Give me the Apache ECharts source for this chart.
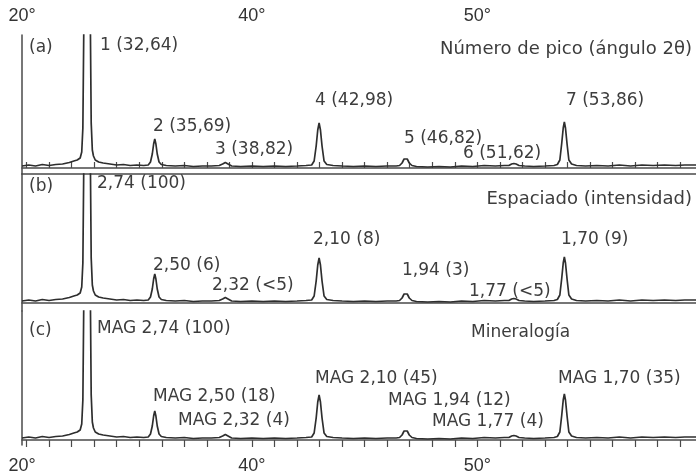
<!DOCTYPE html>
<html>
<head>
<meta charset="utf-8">
<script src="https://cdn.jsdelivr.net/npm/echarts@6/dist/echarts.min.js"></script>
<style>
  html, body { margin: 0; padding: 0; background: #ffffff; }
  #chart { width: 696px; height: 476px; }
</style>
</head>
<body>
<div id="chart"></div>
<script>
// Diffraction peaks (2θ, d-spacing, relative intensity, magnetite reference intensity)
const peakNumbers = ['1', '2', '3', '4', '5', '6', '7'];
const peakAngles = [32.64, 35.69, 38.82, 42.98, 46.82, 51.62, 53.86];
const dSpacings = ['2,74', '2,50', '2,32', '2,10', '1,94', '1,77', '1,70'];
const relIntensity = ['100', '6', '<5', '8', '3', '<5', '9'];
const magIntensity = ['100', '18', '4', '45', '12', '4', '35'];

// Panel headings
const panelLetters = ['(a)', '(b)', '(c)'];
const panelTitles = ['Número de pico (ángulo 2θ)', 'Espaciado (intensidad)', 'Mineralogía'];

// Axis labels printed on the 2θ scale
const tickValues = [29.8, 40, 50];
const tickLabels = ['20°', '40°', '50°'];

// Recorded diffractogram: 2θ (degrees) and counts (arbitrary units)
const traceAngle = [
  29.80, 30.10, 30.40, 30.70, 31.00, 31.30, 31.60, 31.90, 32.10, 32.25,
  32.38, 32.45, 32.50, 32.55, 32.60, 32.70, 32.78, 32.83, 32.87, 32.92,
  32.97, 33.05, 33.20, 33.40, 33.70, 34.00, 34.30, 34.60, 34.90, 35.20,
  35.40, 35.50, 35.58, 35.64, 35.69, 35.74, 35.80, 35.88, 35.98, 36.20,
  36.60, 37.00, 37.40, 37.80, 38.20, 38.55, 38.70, 38.82, 38.94, 39.10,
  39.50, 40.00, 40.50, 41.00, 41.50, 42.00, 42.40, 42.65, 42.76, 42.85,
  42.92, 42.98, 43.04, 43.11, 43.20, 43.32, 43.60, 44.00, 44.50, 45.00,
  45.50, 46.00, 46.40, 46.55, 46.66, 46.75, 46.82, 46.89, 46.98, 47.10,
  47.30, 47.80, 48.30, 48.80, 49.30, 49.80, 50.30, 50.80, 51.20, 51.40,
  51.52, 51.62, 51.72, 51.85, 52.10, 52.50, 53.00, 53.40, 53.55, 53.66,
  53.74, 53.81, 53.86, 53.91, 53.98, 54.06, 54.18, 54.40, 54.80, 55.30,
  55.80, 56.30, 56.80, 57.30, 57.80, 58.30, 58.80, 59.20, 59.70
];
const traceCounts = [
  2, 3, 2, 3.5, 2.5, 3.5, 4, 5.5, 7, 8,
  10, 16, 40, 160, 900, 1400, 700, 150, 45, 18,
  12, 8, 6, 5, 4, 3, 3.5, 2.5, 3, 2.5,
  3, 6, 14, 24, 29, 24, 14, 6, 3.5, 2.5,
  2, 2.5, 1.5, 2, 2, 2.5, 4, 5.5, 4, 2,
  1.5, 2, 1.5, 2, 1.5, 2, 2.5, 3, 7, 22,
  38, 45, 38, 22, 7, 3.5, 2.5, 2, 1.5, 2,
  1.5, 2, 2, 2.5, 5, 9, 11, 9, 5, 2.5,
  1.5, 1, 1.5, 1, 2, 1.5, 2.5, 2, 2.5, 2.5,
  4, 4.5, 4, 2.5, 2, 1.5, 2, 2.5, 3.5, 8,
  24, 40, 46, 40, 24, 8, 4, 2.5, 2, 2.5,
  2, 3, 2, 3, 2.5, 3, 2.5, 3, 3
];

const trace = traceAngle.map((a, i) => [a, traceCounts[i]]);

// Peak annotation texts for each panel
const commaAngle = a => a.toFixed(2).replace('.', ',');
const labelsA = peakNumbers.map((n, i) => n + ' (' + commaAngle(peakAngles[i]) + ')');
const labelsB = dSpacings.map((d, i) => d + ' (' + relIntensity[i] + ')');
const labelsC = dSpacings.map((d, i) => 'MAG ' + d + ' (' + magIntensity[i] + ')');

// Layout of the three stacked panels
const frame = '#4a4a4a';
const ink = '#2e2e2e';
const textInk = '#3d3d3d';
const textFont = '17px "DejaVu Sans", sans-serif';
const titleFont = '18px "DejaVu Sans", sans-serif';
const panels = [
  { top: 35, height: 139, yMin: -6, yMax: 133 },
  { top: 174, height: 137, yMin: -8, yMax: 129 },
  { top: 311, height: 134, yMin: -5, yMax: 129 }
];
const xMin = 29.8, xMax = 59.7;

const degreeTicks = [];
for (let v = 30; v <= 59; v++) degreeTicks.push(v);

const grids = panels.map(p => ({ left: 22, right: -2, top: p.top, height: p.height }));

const baseX = {
  type: 'value', min: xMin, max: xMax,
  splitLine: { show: false },
  axisLine: { show: true, lineStyle: { color: frame, width: 1.5 } },
  axisTick: { show: false },
  axisLabel: { show: false }
};
const scaleLabel = {
  show: true, customValues: tickValues, margin: 10,
  color: '#333', fontSize: 18, fontFamily: 'Liberation Sans, Arial, sans-serif',
  formatter: v => tickLabels[tickValues.indexOf(v)]
};
const xAxes = [
  Object.assign({}, baseX, {
    gridIndex: 0, position: 'top',
    axisTick: { show: true, customValues: degreeTicks, length: 6, lineStyle: { color: frame, width: 1.2 } },
    axisLabel: scaleLabel
  }),
  Object.assign({}, baseX, { gridIndex: 0, position: 'bottom' }),
  Object.assign({}, baseX, { gridIndex: 1, position: 'bottom' }),
  Object.assign({}, baseX, {
    gridIndex: 2, position: 'bottom',
    axisTick: { show: true, customValues: degreeTicks, length: 7, lineStyle: { color: frame, width: 1.2 } },
    axisLabel: Object.assign({}, scaleLabel, { margin: 12 })
  })
];
const yAxes = panels.map((p, i) => ({
  type: 'value', gridIndex: i, min: p.yMin, max: p.yMax,
  splitLine: { show: false },
  axisLine: { show: true, lineStyle: { color: frame, width: 1.5 } },
  axisTick: { show: false },
  axisLabel: { show: false }
}));

const series = panels.map((p, i) => ({
  type: 'line', xAxisIndex: i === 0 ? 0 : i + 1, yAxisIndex: i,
  data: trace, showSymbol: false, clip: true, animation: false,
  lineStyle: { color: ink, width: 1.7 }
}));

// Annotation placement (left edge x, vertical centre y) per panel
const placeA = [[100, 46], [153, 127], [215, 150], [315, 101], [404, 139], [463, 154], [566, 101]];
const placeB = [[97, 184], [153, 266], [212, 286], [313, 240], [402, 271], [469, 292], [561, 240]];
const placeC = [[97, 329], [153, 397], [178, 421], [315, 379], [388, 401], [432, 422], [558, 379]];
const letterPlace = [[29, 48], [29, 187], [29, 331]];
const titlePlace = [[692, 49, 'right', titleFont], [692, 199, 'right', titleFont], [471, 333, 'left', textFont]];

const txt = (s, x, y, align, font) => ({
  type: 'text', x: x, y: y, silent: true,
  style: { text: s, fill: textInk, font: font || textFont, align: align || 'left', verticalAlign: 'middle' }
});
const graphics = [];
[labelsA, labelsB, labelsC].forEach((labels, pi) => {
  const place = [placeA, placeB, placeC][pi];
  labels.forEach((s, i) => graphics.push(txt(s, place[i][0], place[i][1])));
  graphics.push(txt(panelLetters[pi], letterPlace[pi][0], letterPlace[pi][1]));
  const t = titlePlace[pi];
  graphics.push(txt(panelTitles[pi], t[0], t[1], t[2], t[3]));
});

const chart = echarts.init(document.getElementById('chart'), null, { renderer: 'canvas' });
chart.setOption({
  backgroundColor: '#ffffff',
  animation: false,
  grid: grids,
  xAxis: xAxes,
  yAxis: yAxes,
  series: series,
  graphic: graphics
});
</script>
</body>
</html>
